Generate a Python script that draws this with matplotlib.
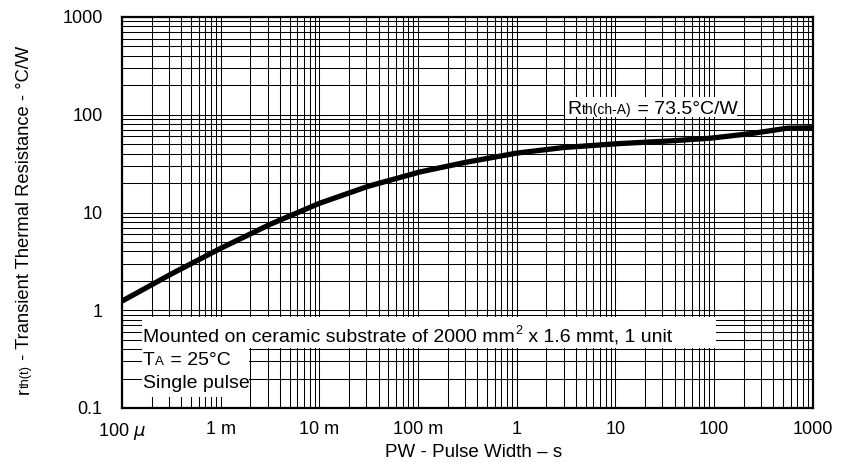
import matplotlib
matplotlib.use('Agg')
import matplotlib.pyplot as plt
from matplotlib.ticker import LogLocator, FixedLocator, FixedFormatter, NullFormatter
from matplotlib.patches import Rectangle
from matplotlib.text import Annotation

# ---- data ----
pulse_width = [1e-4, 3.16e-4, 1e-3, 3.16e-3, 1e-2, 3.16e-2, 0.105, 0.3,
               1, 3, 11, 36, 92, 250, 550, 1000]
r_th = [1.24, 2.35, 4.3, 7.55, 12.4, 18.6, 26.0, 32.5,
        40.5, 46.2, 50.7, 54.0, 57.5, 64.6, 72.8, 73.5]

x_ticks = [1e-4, 1e-3, 1e-2, 1e-1, 1, 10, 100, 1000]
x_tick_labels = ['100 $\\mu$', '1 m', '10 m', '100 m', '1', '10', '100', '1000']
y_ticks = [0.1, 1, 10, 100, 1000]
y_tick_labels = ['0.1', '1', '10', '100', '1000']

plt.rcParams['font.family'] = ['Liberation Sans', 'DejaVu Sans']

W, H = 842, 462
fig = plt.figure(figsize=(W / 100, H / 100), dpi=100)
L, R, T, B = 122, 812.5, 17, 408
ax = fig.add_axes([L / W, 1 - B / H, (R - L) / W, (B - T) / H])
ax.set_xscale('log')
ax.set_yscale('log')
ax.set_xlim(x_ticks[0], x_ticks[-1])
ax.set_ylim(y_ticks[0], y_ticks[-1])

ax.xaxis.set_major_locator(FixedLocator(x_ticks))
ax.xaxis.set_major_formatter(FixedFormatter(x_tick_labels))
ax.xaxis.set_minor_locator(LogLocator(base=10, subs=range(2, 10), numticks=30))
ax.xaxis.set_minor_formatter(NullFormatter())
ax.yaxis.set_major_locator(FixedLocator(y_ticks))
ax.yaxis.set_major_formatter(FixedFormatter(y_tick_labels))
ax.yaxis.set_minor_locator(LogLocator(base=10, subs=range(2, 10), numticks=30))
ax.yaxis.set_minor_formatter(NullFormatter())

ax.grid(True, which='both', color='black', linewidth=0.75)
ax.tick_params(which='both', length=0)
ax.tick_params(axis='y', pad=14, labelsize=13)
ax.tick_params(axis='x', pad=9.5, labelsize=13)
for sp in ax.spines.values():
    sp.set_linewidth(1.6)

ax.plot(pulse_width, r_th, color='black', lw=3.8, solid_capstyle='butt',
        solid_joinstyle='round', zorder=3)

def ax_frac(px, py):
    return (px - L) / (R - L), (B - py) / (B - T)

def white_box(x0, y0, x1, y1):
    fx0, fy1 = ax_frac(x0, y0)
    fx1, fy0 = ax_frac(x1, y1)
    ax.add_patch(Rectangle((fx0, fy0), fx1 - fx0, fy1 - fy0, transform=ax.transAxes,
                           facecolor='white', edgecolor='none', zorder=2))

def chain(pieces, px, py):
    fx, fy = ax_frac(px, py)
    s, size, dy = pieces[0]
    prev = ax.text(fx, fy, s, transform=ax.transAxes, fontsize=size,
                   ha='left', va='baseline', zorder=4)
    for s, size, dy in pieces[1:]:
        prev = ax.annotate(s, xy=(1, fy), xycoords=(prev, 'axes fraction'),
                           xytext=(0.3, dy), textcoords='offset points',
                           fontsize=size, ha='left', va='baseline', zorder=4)

# white backgrounds behind annotations
white_box(565, 97, 737, 117)
white_box(142, 317, 716, 348)
white_box(142, 348, 249, 397)

chain([('R', 14, 0), ('th(ch-A)', 10, 0), (' = 73.5°C/W', 14, 0)], 567, 114)
chain([('Mounted on ceramic substrate of 2000 mm', 14, 0), ('2', 9, 6),
       (' x 1.6 mmt, 1 unit', 14, 0)], 143, 342)
chain([('T', 14, 0), ('A', 9.5, 0), (' = 25°C', 14, 0)], 143, 365)
chain([('Single pulse', 14, 0)], 143, 388)

# x label
fig.text(474 / W, 1 - 457 / H, 'PW - Pulse Width – s', fontsize=13.5,
         ha='center', va='baseline')

# y label (rotated, with small subscript)
ylx = 29 / W
prev = fig.text(ylx, 1 - 394 / H, 'r', fontsize=13.2, rotation=90,
                rotation_mode='anchor', ha='left', va='baseline')
for s, size in [('th(t)', 9.3), (' - Transient Thermal Resistance - °C/W', 13.2)]:
    a = Annotation(s, xy=(ylx, 1), xycoords=('figure fraction', prev),
                   fontsize=size, rotation=90, rotation_mode='anchor',
                   ha='left', va='baseline')
    fig.add_artist(a)
    prev = a

fig.savefig('out.png', dpi=100)
